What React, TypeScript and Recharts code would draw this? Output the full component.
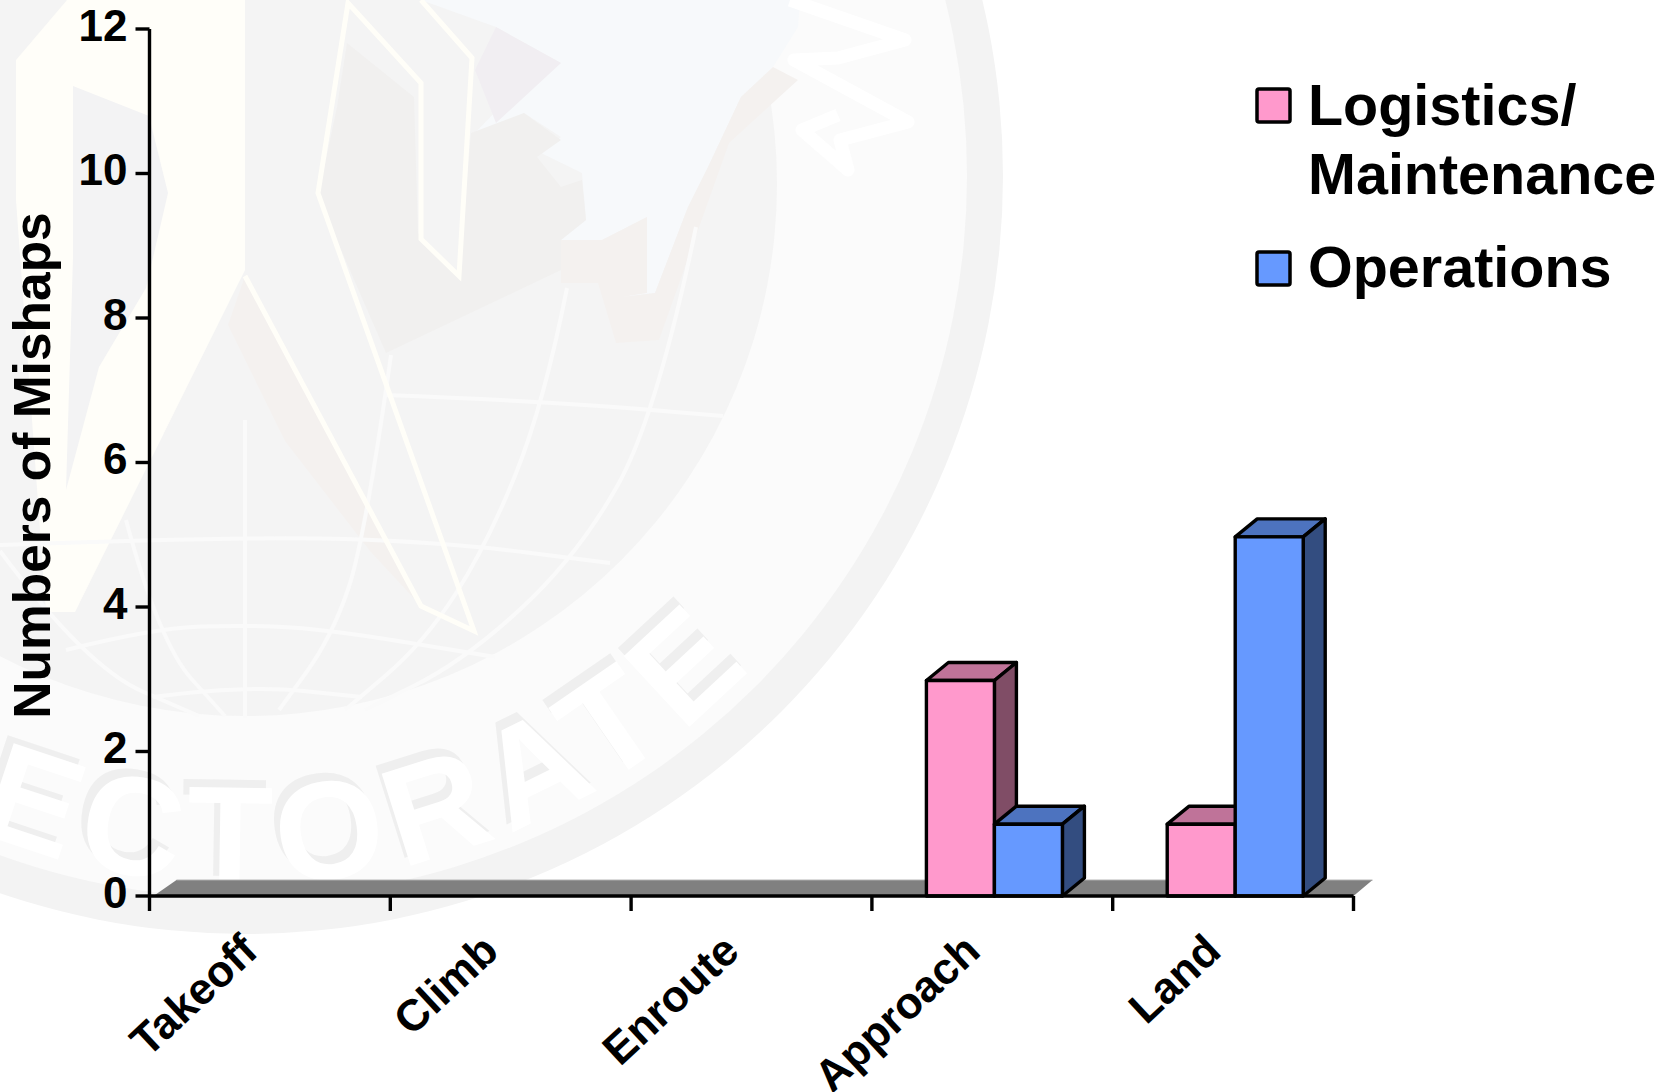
import React from "react";
import {
  BarChart,
  Bar,
  XAxis,
  YAxis,
  Legend,
  ReferenceArea,
} from "recharts";

const FONT = '"Liberation Sans", Arial, sans-serif';

const phases = ["Takeoff", "Climb", "Enroute", "Approach", "Land"];
const logistics = [0, 0, 0, 3, 1];
const operations = [0, 0, 0, 1, 5];
const yTicks = [0, 2, 4, 6, 8, 10, 12];
const phaseEdges = [0, 1, 2, 3, 4, 5];

const LOGISTICS_NAME = "Logistics/ Maintenance";
const OPERATIONS_NAME = "Operations";

const chartData = phases.map((phase, i) => ({
  phase,
  edge: phaseEdges[i],
  logistics: logistics[i],
  operations: operations[i],
}));

const DEPTH_X = 22;
const DEPTH_Y = 18;

// top and side faces are darker shades of the front colour
const FACES: Record<string, { top: string; side: string }> = {
  "#ff99cc": { top: "#bf7399", side: "#804d66" },
  "#6699ff": { top: "#4d73bf", side: "#334d80" },
};

function Bar3D(props: any) {
  const { x, y, width, height, fill } = props;
  if (!height || height <= 0) return null;
  const left = x + 2.5; // bars sit slightly right of the band centre
  const right = left + width;
  const bottom = y + height;
  // the original's 3D bars run a touch shorter than the axis scale
  const top = bottom - height * 0.994;
  const dx = DEPTH_X;
  const dy = DEPTH_Y;
  const shared = { stroke: "#000", strokeWidth: 3.4, strokeLinejoin: "round" as const };
  return (
    <g>
      <polygon
        points={`${left},${top} ${left + dx},${top - dy} ${right + dx},${top - dy} ${right},${top}`}
        fill={FACES[fill].top}
        {...shared}
      />
      <polygon
        points={`${right},${top} ${right + dx},${top - dy} ${right + dx},${bottom - dy} ${right},${bottom}`}
        fill={FACES[fill].side}
        {...shared}
      />
      <rect x={left} y={top} width={width} height={bottom - top} fill={fill} {...shared} />
    </g>
  );
}

function Floor(props: any) {
  const { x, y, width, height } = props;
  const bottom = y + height;
  return (
    <g>
      <polygon
        points={`${x + 4},${bottom} ${x + 27},${y} ${x + width + 19},${y} ${x + width},${bottom}`}
        fill="#808080"
      />
      <line x1={x + 27} y1={y} x2={x + width + 19} y2={y} stroke="#a6a6a6" strokeWidth={1} />
    </g>
  );
}

function PhaseTick(props: any) {
  const { x, y, payload } = props;
  const ax = x - 10;
  const ay = y + 49;
  return (
    <text
      x={ax}
      y={ay}
      transform={`rotate(-43 ${ax} ${ay})`}
      textAnchor="end"
      fontSize={44}
      fontWeight={700}
      fontFamily={FONT}
      fill="#000"
    >
      {payload.value}
    </text>
  );
}

// the edge axis only draws tick marks
function NoLabel() {
  return <g />;
}

function ChartLegend({ payload }: any) {
  const rows = [
    { swatchY: 89, baselines: [125, 194] },
    { swatchY: 252, baselines: [287] },
  ];
  return (
    <svg
      width={1674}
      height={400}
      style={{ position: "absolute", left: 0, top: 0, overflow: "visible" }}
    >
      {(payload || []).map((item: any, i: number) => {
        const lines = String(item.value).split(/(?<=\/)\s/);
        return (
          <g key={item.value}>
            <rect
              x={1257}
              y={rows[i].swatchY}
              width={33}
              height={33}
              rx={2}
              fill={item.color}
              stroke="#000"
              strokeWidth={3.5}
            />
            {lines.map((line: string, j: number) => (
              <text
                key={line}
                x={1308}
                y={rows[i].baselines[j]}
                fontSize={57.5}
                fontWeight={700}
                fontFamily={FONT}
                fill="#000"
              >
                {line}
              </text>
            ))}
          </g>
        );
      })}
    </svg>
  );
}

// rounds off a hand-traced line through midpoints
function curve(pts: number[][]) {
  let d = `M ${pts[0][0]} ${pts[0][1]}`;
  for (let i = 1; i < pts.length - 1; i++) {
    const mx = (pts[i][0] + pts[i + 1][0]) / 2;
    const my = (pts[i][1] + pts[i + 1][1]) / 2;
    d += ` Q ${pts[i][0]} ${pts[i][1]} ${mx} ${my}`;
  }
  const last = pts[pts.length - 1];
  return `${d} L ${last[0]} ${last[1]}`;
}

const globeLines = [
  [[245, 420], [245, 718]],
  [[385, 395], [544, 401], [723, 416]],
  [[0, 545], [245, 536], [444, 542], [610, 563]],
  [[66, 650], [153, 628], [250, 625], [332, 630], [495, 657]],
  [[153, 697], [245, 685], [362, 697]],
  [[567, 288], [544, 404], [487, 545], [424, 643], [345, 710]],
  [[391, 355], [365, 539], [332, 637], [279, 710]],
  [[696, 227], [657, 416], [577, 557], [464, 661], [365, 710]],
  [[126, 520], [159, 643], [225, 716]],
  [[0, 551], [86, 667], [199, 716]],
];

// faint seal behind the plot
function Watermark() {
  const cream = { fill: "none", stroke: "#fffef8", strokeWidth: 5, strokeLinejoin: "miter" as const };
  return (
    <svg width={1674} height={1092} style={{ position: "absolute", left: 0, top: 0 }}>
      <rect width={1674} height={1092} fill="#ffffff" />
      <circle cx={245} cy={176} r={758} fill="#f3f3f3" />
      <circle cx={245} cy={176} r={722} fill="#fbfbfb" />
      <circle cx={245} cy={184} r={532} fill="#f4f4f4" />
      <defs>
        <path id="seal-text" d="M -455 184 A 700 700 0 0 0 945 184" />
      </defs>
      <g fontFamily={FONT} fontWeight={700} fontSize={140} textAnchor="middle" letterSpacing={12}>
        <text fill="#efefef" transform="translate(-6 -8)">
          <textPath href="#seal-text" startOffset="50.5%">DIRECTORATE</textPath>
        </text>
        <text fill="#ffffff">
          <textPath href="#seal-text" startOffset="50.5%">DIRECTORATE</textPath>
        </text>
      </g>

      <polygon points="300,0 800,0 798,27 773,67 741,97 708,167 688,207 655,293 622,297 647,217 602,240 561,240 586,220 582,173 541,153 561,137 524,113 471,137 529,77 561,63 496,27 421,0" fill="#f7f9fb" />
      <polygon points="347,43 414,97 418,233 459,273 471,133 524,113 561,140 537,157 561,187 582,180 586,220 561,240 561,270 386,353 318,197 337,107" fill="#f1f0ef" />
      <polygon points="496,27 561,63 496,123 475,70" fill="#f1eef2" />
      <polygon points="773,67 798,80 729,143 659,340 616,343 598,283 561,283 561,240 602,240 647,217 647,293 622,297 655,293 688,207 708,167 741,97" fill="#f4f1ef" />

      <polygon points="67,0 245,0 245,270 75,612 46,612 16,200 16,60" fill="#fffef9" />
      <polygon points="73,86 149,116 168,193 146,288 99,367 66,490 73,257" fill="#f3f3f4" />
      <polygon points="245,276 228,325 285,441 370,551 421,606" fill="#f4f1ef" />

      {globeLines.map((pts, i) => (
        <path key={i} d={curve(pts)} fill="none" stroke="#fafafa" strokeWidth={4} />
      ))}

      <polyline {...cream} points="421,0 472,58 459,276 421,239 421,83 348,3 318,193 474,631 421,606 245,276" />
      <polyline points="790,0 905,40 838,58 794,60 908,122 840,140 848,170 802,130 838,115" fill="none" stroke="#ffffff" strokeWidth={13} strokeLinejoin="round" />
    </svg>
  );
}

export default function App() {
  return (
    <div style={{ position: "absolute", left: 0, top: 0, width: 1674, height: 1092, overflow: "hidden", fontFamily: FONT }}>
      <Watermark />
      <div style={{ position: "absolute", left: 0, top: 0 }}>
        <BarChart
          width={1674}
          height={1092}
          data={chartData}
          margin={{ top: 29, right: 320.5, bottom: 0, left: 0 }}
          barCategoryGap="21.6%"
          barGap={0}
        >
          <XAxis
            xAxisId="edges"
            type="number"
            dataKey="edge"
            domain={[0, 5]}
            ticks={phaseEdges}
            height={1}
            tick={<NoLabel />}
            tickSize={15}
            axisLine={{ stroke: "#000", strokeWidth: 3.4 }}
            tickLine={{ stroke: "#000", strokeWidth: 3.4 }}
            allowDataOverflow
          />
          <XAxis
            xAxisId="phase"
            dataKey="phase"
            height={195}
            axisLine={false}
            tickLine={false}
            tick={<PhaseTick />}
            interval={0}
          />
          <YAxis
            type="number"
            domain={[0, 12]}
            ticks={yTicks}
            width={149.5}
            tickSize={14}
            tickMargin={8}
            axisLine={{ stroke: "#000", strokeWidth: 3.4 }}
            tickLine={{ stroke: "#000", strokeWidth: 3.4 }}
            tick={{ fontSize: 44, fontWeight: 700, fill: "#000", fontFamily: FONT, dy: -4 }}
            label={{
              value: "Numbers of Mishaps",
              angle: -90,
              position: "insideLeft",
              offset: 0,
              dx: 32,
              dy: 3,
              style: { fontSize: 51.5, fontWeight: 700, fill: "#000", fontFamily: FONT, textAnchor: "middle" },
            }}
          />
          <ReferenceArea
            xAxisId="phase"
            y1={0}
            y2={0.22}
            shape={<Floor />}
            isFront={false}
          />
          <Bar
            xAxisId="phase"
            dataKey="logistics"
            name={LOGISTICS_NAME}
            fill="#ff99cc"
            shape={<Bar3D />}
            isAnimationActive={false}
          />
          <Bar
            xAxisId="phase"
            dataKey="operations"
            name={OPERATIONS_NAME}
            fill="#6699ff"
            shape={<Bar3D />}
            isAnimationActive={false}
          />
          <Legend
            content={<ChartLegend />}
            wrapperStyle={{ left: 0, top: 0, width: 0, height: 0 }}
          />
        </BarChart>
      </div>
    </div>
  );
}
